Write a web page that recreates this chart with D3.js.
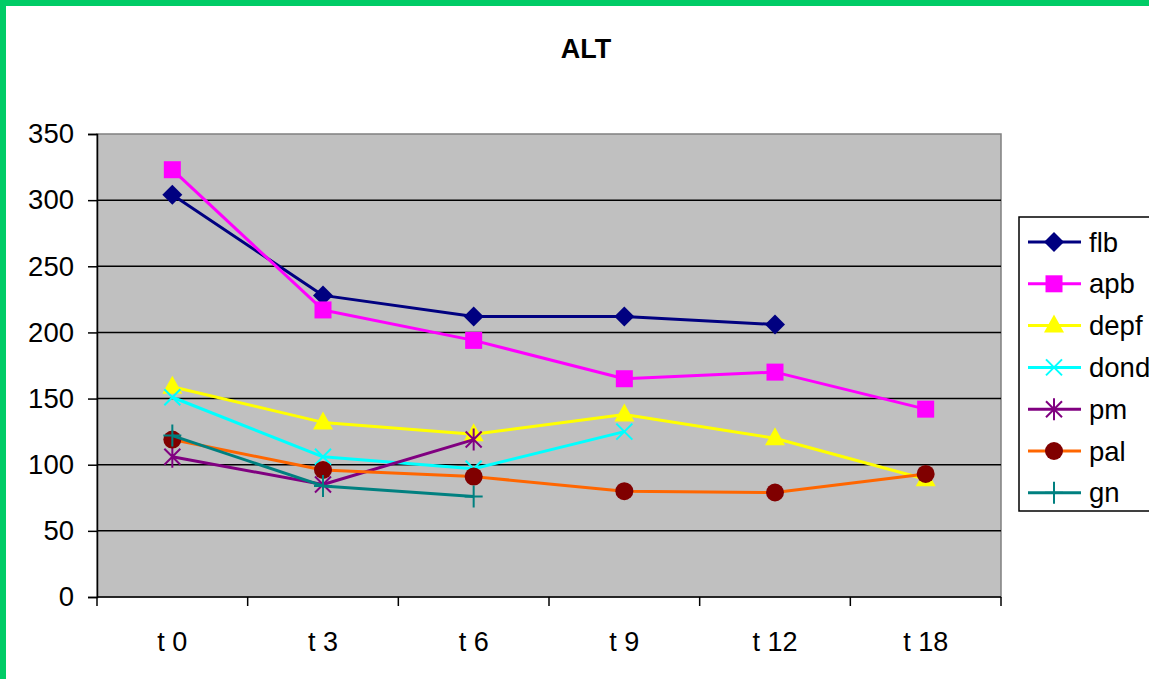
<!DOCTYPE html>
<html>
<head>
<meta charset="utf-8">
<script src="https://cdn.jsdelivr.net/npm/d3@7"></script>
<style>
  html, body { margin: 0; padding: 0; background: #fff; overflow: hidden; }
  svg { display: block; font-family: "Liberation Sans", Arial, sans-serif; }
</style>
</head>
<body>
<svg id="chart" width="1149" height="679"></svg>
<script>
// ALT values per visit
const categories = ["t 0", "t 3", "t 6", "t 9", "t 12", "t 18"];
const yTicks = [0, 50, 100, 150, 200, 250, 300, 350];

const flb  = [304, 228, 212, 212, 206, null];
const apb  = [323, 217, 194, 165, 170, 142];
const depf = [159, 132, 123, 138, 120, 89];
const dond = [151, 106, 97, 125, null, null];
const pm   = [106, 85, 119, null, null, null];
const pal  = [119, 96, 91, 80, 79, 93];
const gn   = [122, 84, 76, null, null, null];

const seriesNames = ["flb", "apb", "depf", "dond", "pm", "pal", "gn"];

const series = [
  { name: "flb",  values: flb,  line: "#000080", fill: "#000080", marker: "diamond" },
  { name: "apb",  values: apb,  line: "#FF00FF", fill: "#FF00FF", marker: "square" },
  { name: "depf", values: depf, line: "#FFFF00", fill: "#FFFF00", marker: "triangle" },
  { name: "dond", values: dond, line: "#00FFFF", fill: "#00FFFF", marker: "x" },
  { name: "pm",   values: pm,   line: "#800080", fill: "#800080", marker: "star" },
  { name: "pal",  values: pal,  line: "#FF6600", fill: "#800000", marker: "circle" },
  { name: "gn",   values: gn,   line: "#008080", fill: "#008080", marker: "plus" }
];

const svg = d3.select("#chart");
const W = 1149, H = 679;

// outer frame
svg.append("rect").attr("x", 3).attr("y", 3).attr("width", W + 10).attr("height", H + 10)
  .attr("fill", "#fff").attr("stroke", "#00CC66").attr("stroke-width", 6);

const plot = { left: 97, top: 134, right: 1001, bottom: 597 };

const x = d3.scaleBand().domain(categories).range([plot.left, plot.right]).padding(0);
const y = d3.scaleLinear().domain([0, 350]).range([plot.bottom, plot.top]);
const cx = c => x(c) + x.bandwidth() / 2;

// plot background
svg.append("rect")
  .attr("x", plot.left).attr("y", plot.top)
  .attr("width", plot.right - plot.left).attr("height", plot.bottom - plot.top)
  .attr("fill", "#C0C0C0").attr("stroke", "#808080").attr("stroke-width", 1.5);

// horizontal gridlines
svg.append("g").selectAll("line")
  .data(yTicks.filter(t => t > 0 && t < 350))
  .join("line")
  .attr("x1", plot.left).attr("x2", plot.right)
  .attr("y1", d => y(d)).attr("y2", d => y(d))
  .attr("stroke", "#000").attr("stroke-width", 1.5);

// y axis
const yAxis = svg.append("g")
  .attr("transform", `translate(${plot.left},0)`)
  .call(d3.axisLeft(y).tickValues(yTicks).tickSize(9).tickPadding(14));
yAxis.select(".domain").attr("stroke", "#000").attr("stroke-width", 1.5);
yAxis.selectAll(".tick line").attr("stroke", "#000").attr("stroke-width", 1.5);
yAxis.selectAll("text").attr("font-size", 27.5).attr("fill", "#000")
  .attr("font-family", "'Liberation Sans', Arial, sans-serif");

// x axis: tick marks between categories
const xAxisG = svg.append("g").attr("transform", `translate(0,${plot.bottom})`);
xAxisG.append("line").attr("x1", plot.left).attr("x2", plot.right)
  .attr("stroke", "#000").attr("stroke-width", 1.5);
const boundaries = categories.map(c => x(c)).concat([plot.right]);
xAxisG.selectAll(".tk").data(boundaries).join("line").attr("class", "tk")
  .attr("x1", d => d).attr("x2", d => d).attr("y1", 0).attr("y2", 9)
  .attr("stroke", "#000").attr("stroke-width", 1.5);
xAxisG.selectAll(".lbl").data(categories).join("text").attr("class", "lbl")
  .attr("x", d => cx(d)).attr("y", 54)
  .attr("text-anchor", "middle").attr("font-size", 27).attr("fill", "#000")
  .text(d => d);

// title
svg.append("text").attr("x", 586).attr("y", 58).attr("text-anchor", "middle")
  .attr("font-size", 27).attr("font-weight", "bold").attr("fill", "#000").text("ALT");

// marker drawing
function drawMarker(g, type, fill, stroke) {
  switch (type) {
    case "diamond":
      g.append("path").attr("d", "M0,-10L10,0L0,10L-10,0Z").attr("fill", fill);
      break;
    case "square":
      g.append("rect").attr("x", -8.5).attr("y", -8.5).attr("width", 17).attr("height", 17).attr("fill", fill);
      break;
    case "triangle":
      g.append("path").attr("d", "M0,-11L10,7L-10,7Z").attr("fill", fill);
      break;
    case "circle":
      g.append("circle").attr("r", 9).attr("fill", fill);
      break;
    case "x":
      g.append("path").attr("d", "M-8,-8L8,8M8,-8L-8,8").attr("stroke", stroke).attr("stroke-width", 2).attr("fill", "none");
      break;
    case "star":
      g.append("path").attr("d", "M-8,-8L8,8M8,-8L-8,8M0,-11L0,11").attr("stroke", stroke).attr("stroke-width", 2).attr("fill", "none");
      break;
    case "plus":
      g.append("path").attr("d", "M0,-11L0,11M-9,0L9,0").attr("stroke", stroke).attr("stroke-width", 2).attr("fill", "none");
      break;
  }
}

const line = d3.line()
  .defined(d => d.v != null)
  .x(d => cx(d.c)).y(d => y(d.v));

series.forEach(s => {
  const pts = categories.map((c, i) => ({ c, v: s.values[i] }));
  const g = svg.append("g").attr("class", "series-" + s.name);
  g.append("path").datum(pts).attr("d", line)
    .attr("fill", "none").attr("stroke", s.line).attr("stroke-width", 3).attr("stroke-linejoin", "round");
  pts.filter(p => p.v != null).forEach(p => {
    const m = g.append("g").attr("transform", `translate(${cx(p.c)},${y(p.v)})`);
    drawMarker(m, s.marker, s.fill, s.fill);
  });
});

// legend
const legend = svg.append("g");
legend.append("rect").attr("x", 1019).attr("y", 217).attr("width", 200).attr("height", 294)
  .attr("fill", "#fff").attr("stroke", "#000").attr("stroke-width", 1.5);
series.forEach((s, i) => {
  const ly = 242 + i * 41.8;
  legend.append("line").attr("x1", 1028).attr("x2", 1081).attr("y1", ly).attr("y2", ly)
    .attr("stroke", s.line).attr("stroke-width", 3);
  const m = legend.append("g").attr("transform", `translate(1054,${ly})`);
  drawMarker(m, s.marker, s.fill, s.fill);
  legend.append("text").attr("x", 1089).attr("y", ly + 9.5).attr("font-size", 27.5).attr("fill", "#000")
    .text(seriesNames[i]);
});
</script>
</body>
</html>
